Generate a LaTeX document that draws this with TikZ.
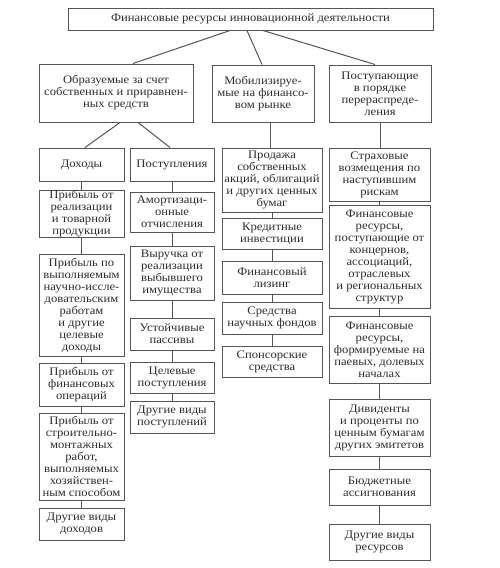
\documentclass[tikz,border=0pt]{standalone}
\usepackage{fontspec}
\setmainfont[FakeStretch=1.1]{Liberation Serif}
\definecolor{ln}{HTML}{555555}
\definecolor{tx}{HTML}{2E2E2E}
\begin{document}
\begin{tikzpicture}[x=1pt,y=-1pt,
  bx/.style={draw=ln,line width=1pt,align=center,inner sep=0pt,text=tx,
    font=\fontsize{11.5}{12}\selectfont},
  cn/.style={draw=ln,line width=1pt}]
\useasboundingbox[fill=white] (0,0) rectangle (500,568);
% top
\node[bx,minimum width=365,minimum height=22] (top) at (250.5,19) {Финансовые ресурсы инновационной деятельности};
% level 2
\node[bx,minimum width=154,minimum height=58] (A) at (116,93) {Образуемые за счет\\собственных и приравнен-\\ных средств};
\node[bx,minimum width=102,minimum height=57] (B) at (263,93.5) {Мобилизируе-\\мые на финансо-\\вом рынке};
\node[bx,minimum width=102,minimum height=57] (C) at (380,93.5) {Поступающие\\в порядке\\перераспреде-\\ления};
% column 1
\node[bx,minimum width=85,minimum height=33] (d1) at (81.5,164.5) {Доходы};
\node[bx,minimum width=85,minimum height=47] (d2) at (81.5,213.5) {Прибыль от\\реализации\\и товарной\\продукции};
\node[bx,minimum width=85,minimum height=102] (d3) at (81.5,305) {Прибыль по\\выполняемым\\научно-иссле-\\довательским\\работам\\и другие\\целевые\\доходы};
\node[bx,minimum width=85,minimum height=43] (d4) at (81.5,384.5) {Прибыль от\\финансовых\\операций};
\node[bx,minimum width=85,minimum height=87] (d5) at (81.5,456.5) {Прибыль от\\строительно-\\монтажных\\работ,\\выполняемых\\хозяйствен-\\ным способом};
\node[bx,minimum width=85,minimum height=32] (d6) at (81.5,524) {Другие виды\\доходов};
% column 2
\node[bx,minimum width=84,minimum height=33] (p1) at (172,164.5) {Поступления};
\node[bx,minimum width=84,minimum height=40] (p2) at (172,212) {Амортизаци-\\онные\\отчисления};
\node[bx,minimum width=84,minimum height=54] (p3) at (172,273) {Выручка от\\реализации\\выбывшего\\имущества};
\node[bx,minimum width=84,minimum height=32] (p4) at (172,334) {Устойчивые\\пассивы};
\node[bx,minimum width=84,minimum height=31] (p5) at (172,377.5) {Целевые\\поступления};
\node[bx,minimum width=84,minimum height=32] (p6) at (172,417) {Другие виды\\поступлений};
% column 3
\node[bx,minimum width=100,minimum height=64] (m1) at (272,180) {Продажа\\собственных\\акций, облигаций\\и других ценных\\бумаг};
\node[bx,minimum width=100,minimum height=31] (m2) at (272,233.5) {Кредитные\\инвестиции};
\node[bx,minimum width=100,minimum height=33] (m3) at (272,277.5) {Финансовый\\лизинг};
\node[bx,minimum width=100,minimum height=32] (m4) at (272,318) {Средства\\научных фондов};
\node[bx,minimum width=100,minimum height=31] (m5) at (272,361.5) {Спонсорские\\средства};
% column 4
\node[bx,minimum width=101,minimum height=53] (r1) at (379.5,174.5) {Страховые\\возмещения по\\наступившим\\рискам};
\node[bx,minimum width=101,minimum height=103] (r2) at (379.5,256.5) {Финансовые\\ресурсы,\\поступающие от\\концернов,\\ассоциаций,\\отраслевых\\и региональных\\структур};
\node[bx,minimum width=101,minimum height=67] (r3) at (379.5,349.5) {Финансовые\\ресурсы,\\формируемые на\\паевых, долевых\\началах};
\node[bx,minimum width=101,minimum height=57] (r4) at (379.5,427.5) {Дивиденты\\и проценты по\\ценным бумагам\\других эмитетов};
\node[bx,minimum width=101,minimum height=36] (r5) at (379.5,487) {Бюджетные\\ассигнования};
\node[bx,minimum width=101,minimum height=36] (r6) at (379.5,542) {Другие виды\\ресурсов};
% connectors
\draw[cn] ([xshift=-20.5pt]top.south) -- ([xshift=17pt]A.north);
\draw[cn] ([xshift=-3.5pt]top.south) -- ([xshift=-1pt]B.north);
\draw[cn] ([xshift=12.5pt]top.south) -- ([xshift=-5pt]C.north);
\draw[cn] ([xshift=4pt]A.south) -- ([xshift=3.5pt]d1.north);
\draw[cn] ([xshift=22pt]A.south) -- ([xshift=-2pt]p1.north);
\draw[cn] ([xshift=7pt]B.south) -- ([xshift=-2pt]m1.north);
\draw[cn] (C.south) -- (C.south |- r1.north);
\draw[cn] (d1) -- (d2) (d2) -- (d3) (d3) -- (d4) (d4) -- (d5) (d5) -- (d6);
\draw[cn] (p1) -- (p2) (p2) -- (p3) (p3) -- (p4) (p4) -- (p5) (p5) -- (p6);
\draw[cn] (m1) -- (m2) (m2) -- (m3) (m3) -- (m4) (m4) -- (m5);
\draw[cn] (r1) -- (r2) (r2) -- (r3) (r3) -- (r4) (r4) -- (r5) (r5) -- (r6);
\end{tikzpicture}
\end{document}
